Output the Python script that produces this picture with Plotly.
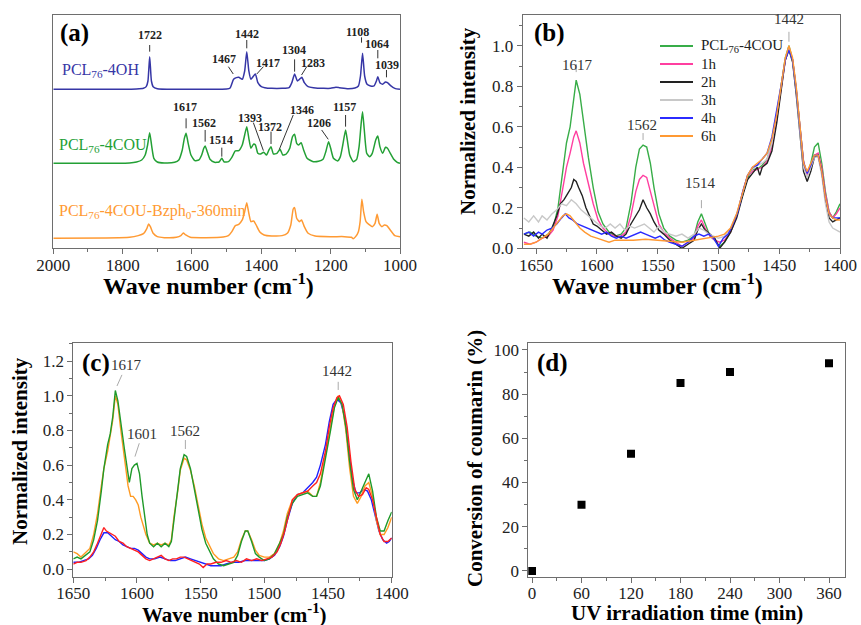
import plotly.graph_objects as go

W, H = 861, 625
SERIF = "Liberation Serif"

# ---------------- DATA ----------------
# Panel (a): spectra as (wave number, intensity above own baseline, a.u.)
a_oh = [(2000,0),(1900,0),(1800,0),(1760,0.01),(1740,0.03),(1732,0.08),(1727,0.25),(1722,0.98),(1717,0.25),(1712,0.08),
        (1700,0.02),(1650,0),(1550,0),(1500,0.01),(1490,0.04),(1480,0.3),(1472,0.35),(1465,0.36),(1455,0.3),(1448,0.55),
        (1442,1.13),(1436,0.55),(1430,0.3),(1424,0.38),(1417,0.46),(1410,0.2),(1400,0.08),(1390,0.05),(1370,0.03),(1340,0.03),
        (1320,0.05),(1312,0.2),(1304,0.46),(1296,0.25),(1290,0.3),(1283,0.36),(1276,0.2),(1265,0.08),(1250,0.05),(1220,0.03),
        (1200,0.03),(1185,0.06),(1175,0.05),(1150,0.02),(1130,0.04),(1120,0.1),(1114,0.4),(1108,1.08),(1102,0.4),(1095,0.15),
        (1085,0.1),(1075,0.1),(1068,0.25),(1064,0.38),(1058,0.2),(1050,0.15),(1042,0.22),(1036,0.2),(1028,0.12),(1015,0.03),(1000,0)]
a_cou = [(2000,0),(1850,0),(1780,0.01),(1760,0.04),(1745,0.1),(1735,0.25),(1728,0.55),(1722,0.92),(1716,0.5),(1710,0.15),
         (1700,0.04),(1680,0.01),(1650,0.03),(1638,0.1),(1628,0.4),(1622,0.75),(1617,0.9),(1611,0.6),(1603,0.25),(1592,0.08),
         (1580,0.1),(1572,0.25),(1566,0.45),(1562,0.52),(1556,0.35),(1548,0.12),(1535,0.03),(1522,0.04),(1514,0.15),(1507,0.04),
         (1495,0.05),(1485,0.18),(1475,0.37),(1465,0.38),(1455,0.55),(1448,0.85),(1442,1.1),(1436,0.75),(1430,0.45),(1422,0.58),
         (1417,0.55),(1410,0.3),(1402,0.28),(1393,0.33),(1385,0.25),(1378,0.4),(1372,0.5),(1365,0.28),(1355,0.3),(1346,0.42),
         (1338,0.25),(1328,0.28),(1318,0.45),(1310,0.8),(1304,0.87),(1298,0.6),(1292,0.55),(1285,0.62),(1278,0.4),(1268,0.15),
         (1250,0.05),(1235,0.06),(1222,0.12),(1214,0.35),(1206,0.65),(1200,0.45),(1192,0.15),(1180,0.07),(1172,0.2),(1165,0.55),
         (1157,1.0),(1152,0.7),(1145,0.25),(1135,0.05),(1125,0.12),(1118,0.5),(1112,1.2),(1108,1.55),(1103,1.0),(1096,0.3),
         (1088,0.2),(1080,0.3),(1070,0.7),(1064,0.82),(1058,0.5),(1050,0.3),(1042,0.48),(1036,0.45),(1028,0.3),(1018,0.12),
         (1008,0.03),(1000,0)]
a_bzph = [(2000,0),(1850,0.01),(1780,0.03),(1755,0.08),(1740,0.14),(1730,0.3),(1725,0.43),(1720,0.35),(1712,0.15),(1700,0.05),
          (1680,0.02),(1645,0.03),(1632,0.08),(1625,0.16),(1618,0.1),(1605,0.03),(1560,0.02),(1510,0.04),(1495,0.08),(1485,0.2),
          (1475,0.38),(1465,0.42),(1455,0.55),(1448,0.8),(1442,1.07),(1436,0.75),(1430,0.5),(1422,0.52),(1415,0.4),(1405,0.2),
          (1392,0.1),(1370,0.07),(1340,0.08),(1325,0.15),(1315,0.4),(1308,0.88),(1304,0.92),(1298,0.6),(1290,0.5),(1284,0.55),
          (1276,0.35),(1265,0.15),(1245,0.07),(1200,0.05),(1160,0.05),(1140,0.03),(1135,-0.01),(1128,0.05),(1120,0.2),(1115,0.5),
          (1110,1.17),(1105,0.8),(1098,0.5),(1090,0.42),(1080,0.35),(1072,0.45),(1066,0.72),(1060,0.45),(1052,0.35),(1045,0.4),
          (1038,0.38),(1028,0.25),(1015,0.08),(1000,0.05)]
a_names = ["PCL<sub>76</sub>-4OH", "PCL<sub>76</sub>-4COU", "PCL<sub>76</sub>-4COU-Bzph<sub>0</sub>-360min"]
a_offsets = [4.77, 2.55, 0.30]

# Panel (b): normalized intensity vs wave number
b_cou = [(1660,0.07),(1655,0.08),(1650,0.06),(1645,0.05),(1640,0.07),(1636,0.1),(1632,0.2),(1628,0.38),(1625,0.52),(1622,0.6),
         (1619,0.74),(1617,0.83),(1614,0.76),(1611,0.62),(1607,0.45),(1603,0.3),(1599,0.18),(1595,0.12),(1590,0.08),(1585,0.06),
         (1580,0.07),(1576,0.1),(1572,0.22),(1568,0.4),(1565,0.49),(1562,0.51),(1559,0.5),(1556,0.42),(1553,0.3),(1549,0.17),
         (1545,0.1),(1540,0.06),(1535,0.04),(1530,0.03),(1525,0.04),(1520,0.06),(1517,0.13),(1514,0.17),(1511,0.12),(1507,0.06),
         (1503,0.04),(1499,0.01),(1495,0.03),(1490,0.08),(1485,0.16),(1480,0.27),(1476,0.35),(1472,0.39),(1468,0.39),(1464,0.41),
         (1460,0.44),(1456,0.52),(1452,0.65),(1448,0.82),(1445,0.94),(1442,1.0),(1439,0.93),(1436,0.78),(1433,0.6),(1430,0.43),
         (1427,0.36),(1424,0.42),(1421,0.5),(1418,0.52),(1415,0.42),(1412,0.28),(1409,0.18),(1406,0.15),(1403,0.18),(1400,0.22)]
b_1h = [(1660,0.03),(1655,0.02),(1650,0.03),(1645,0.05),(1640,0.06),(1636,0.09),(1632,0.16),(1628,0.3),(1625,0.4),(1622,0.47),
        (1619,0.55),(1617,0.58),(1614,0.52),(1611,0.42),(1607,0.32),(1603,0.22),(1599,0.14),(1595,0.1),(1590,0.07),(1585,0.06),
        (1580,0.06),(1576,0.08),(1572,0.16),(1568,0.28),(1565,0.34),(1562,0.36),(1559,0.35),(1556,0.28),(1553,0.2),(1549,0.12),
        (1545,0.08),(1540,0.05),(1535,0.03),(1530,0.01),(1525,0.03),(1520,0.05),(1517,0.11),(1514,0.14),(1511,0.1),(1507,0.06),
        (1503,0.04),(1499,0.03),(1495,0.04),(1490,0.08),(1485,0.16),(1480,0.28),(1476,0.36),(1472,0.38),(1468,0.39),(1464,0.4),
        (1460,0.43),(1456,0.5),(1452,0.64),(1448,0.8),(1445,0.93),(1442,0.99),(1439,0.93),(1436,0.78),(1433,0.6),(1430,0.43),
        (1427,0.36),(1424,0.41),(1421,0.46),(1418,0.47),(1415,0.4),(1412,0.27),(1409,0.18),(1406,0.15),(1403,0.17),(1400,0.2)]
b_2h = [(1660,0.07),(1656,0.06),(1652,0.08),(1648,0.05),(1645,0.07),(1641,0.05),(1637,0.1),(1633,0.16),(1630,0.22),(1627,0.24),
        (1624,0.27),(1621,0.3),(1619,0.34),(1617,0.33),(1615,0.3),(1612,0.26),(1609,0.2),(1606,0.16),(1603,0.12),(1600,0.11),
        (1596,0.09),(1592,0.07),(1588,0.08),(1584,0.06),(1580,0.05),(1576,0.07),(1572,0.12),(1568,0.16),(1565,0.19),(1562,0.24),
        (1559,0.2),(1556,0.17),(1553,0.13),(1549,0.09),(1545,0.07),(1540,0.04),(1535,0.02),(1530,0.0),(1525,0.02),(1520,0.04),
        (1517,0.09),(1514,0.12),(1511,0.09),(1507,0.07),(1503,0.05),(1499,0.0),(1495,0.03),(1490,0.08),(1485,0.15),(1480,0.26),
        (1476,0.34),(1472,0.37),(1468,0.4),(1466,0.36),(1464,0.4),(1460,0.42),(1456,0.48),(1452,0.62),(1448,0.8),(1445,0.93),
        (1442,0.98),(1439,0.92),(1436,0.76),(1433,0.57),(1430,0.38),(1427,0.33),(1424,0.38),(1421,0.45),(1418,0.46),(1415,0.38),
        (1412,0.24),(1409,0.15),(1406,0.13),(1403,0.14),(1400,0.15)]
b_3h = [(1660,0.15),(1656,0.13),(1652,0.16),(1648,0.13),(1645,0.16),(1641,0.14),(1637,0.17),(1633,0.19),(1629,0.22),(1625,0.21),
        (1621,0.24),(1617,0.22),(1613,0.19),(1609,0.17),(1605,0.15),(1601,0.13),(1597,0.11),(1593,0.1),(1589,0.12),(1585,0.1),
        (1581,0.12),(1577,0.09),(1573,0.11),(1569,0.1),(1565,0.11),(1561,0.12),(1557,0.1),(1553,0.08),(1549,0.11),(1545,0.08),
        (1540,0.07),(1535,0.06),(1530,0.07),(1525,0.05),(1520,0.07),(1516,0.1),(1512,0.09),(1508,0.07),(1504,0.06),(1500,0.05),
        (1495,0.06),(1490,0.1),(1485,0.17),(1480,0.28),(1476,0.36),(1472,0.39),(1468,0.41),(1464,0.42),(1460,0.44),(1456,0.52),
        (1452,0.66),(1448,0.82),(1445,0.94),(1442,0.99),(1439,0.93),(1436,0.78),(1433,0.58),(1430,0.4),(1427,0.35),(1424,0.4),
        (1421,0.45),(1418,0.45),(1415,0.36),(1412,0.22),(1409,0.13),(1406,0.1),(1403,0.09),(1400,0.08)]
b_4h = [(1660,0.07),(1656,0.08),(1652,0.06),(1648,0.08),(1645,0.07),(1641,0.09),(1637,0.1),(1633,0.12),(1629,0.15),(1626,0.17),
        (1623,0.15),(1620,0.14),(1616,0.12),(1612,0.11),(1608,0.1),(1604,0.09),(1600,0.08),(1596,0.07),(1592,0.08),(1588,0.06),
        (1584,0.05),(1580,0.06),(1576,0.05),(1572,0.06),(1568,0.07),(1564,0.08),(1560,0.07),(1556,0.06),(1552,0.05),(1548,0.06),
        (1544,0.04),(1540,0.03),(1535,0.02),(1530,0.01),(1525,0.03),(1520,0.06),(1516,0.07),(1512,0.06),(1508,0.07),(1504,0.05),
        (1500,0.01),(1496,0.05),(1492,0.07),(1488,0.12),(1484,0.18),(1480,0.28),(1476,0.36),(1472,0.4),(1468,0.41),(1464,0.44),
        (1460,0.47),(1456,0.55),(1452,0.68),(1448,0.82),(1445,0.93),(1442,0.98),(1439,0.93),(1436,0.79),(1433,0.6),(1430,0.42),
        (1427,0.37),(1424,0.41),(1421,0.46),(1418,0.46),(1415,0.38),(1412,0.25),(1409,0.17),(1406,0.15),(1403,0.15),(1400,0.15)]
b_6h = [(1660,0.02),(1655,0.02),(1650,0.03),(1645,0.05),(1640,0.07),(1636,0.1),(1632,0.13),(1628,0.16),(1625,0.17),(1622,0.16),
        (1618,0.13),(1614,0.1),(1610,0.08),(1605,0.06),(1600,0.05),(1595,0.04),(1590,0.03),(1585,0.04),(1580,0.04),(1570,0.04),
        (1560,0.045),(1550,0.04),(1540,0.035),(1530,0.03),(1520,0.04),(1510,0.05),(1500,0.06),(1495,0.07),(1490,0.1),(1485,0.17),
        (1480,0.28),(1476,0.36),(1472,0.4),(1468,0.42),(1464,0.44),(1460,0.47),(1456,0.54),(1452,0.66),(1448,0.82),(1445,0.94),
        (1442,1.0),(1439,0.94),(1436,0.8),(1433,0.6),(1430,0.42),(1427,0.38),(1424,0.42),(1421,0.46),(1418,0.46),(1415,0.38),
        (1412,0.25),(1409,0.17),(1406,0.15),(1403,0.14),(1400,0.14)]
b_names = ["PCL<sub>76</sub>-4COU", "1h", "2h", "3h", "4h", "6h"]

# Panel (c): normalized intensity vs wave number
c_green = [(1650,0.06),(1647,0.07),(1644,0.06),(1640,0.08),(1637,0.1),(1634,0.17),(1631,0.28),(1628,0.45),(1626,0.58),(1623,0.72),
           (1621,0.78),(1619,0.88),(1617,1.03),(1615,0.97),(1613,0.85),(1610,0.7),(1607,0.55),(1606,0.5),(1604,0.58),(1602,0.6),
           (1600,0.61),(1598,0.55),(1596,0.42),(1594,0.3),(1592,0.2),(1590,0.15),(1587,0.13),(1584,0.15),(1581,0.13),(1578,0.15),
           (1575,0.13),(1573,0.16),(1571,0.28),(1568,0.45),(1566,0.58),(1563,0.66),(1561,0.65),(1558,0.58),(1555,0.47),(1552,0.35),
           (1549,0.23),(1546,0.15),(1543,0.1),(1540,0.06),(1536,0.03),(1532,0.02),(1528,0.03),(1524,0.04),(1521,0.08),(1518,0.16),
           (1515,0.22),(1513,0.22),(1510,0.16),(1507,0.09),(1504,0.07),(1500,0.05),(1496,0.06),(1492,0.09),(1488,0.15),(1485,0.2),
           (1482,0.3),(1478,0.38),(1474,0.42),(1470,0.43),(1466,0.44),(1462,0.42),(1459,0.42),(1456,0.48),(1452,0.63),(1448,0.8),
           (1445,0.93),(1442,0.99),(1439,0.95),(1436,0.82),(1433,0.62),(1430,0.46),(1427,0.4),(1424,0.45),(1421,0.5),(1418,0.55),
           (1415,0.45),(1412,0.3),(1409,0.22),(1406,0.22),(1403,0.28),(1400,0.33)]
c_orange = [(1650,0.1),(1647,0.09),(1644,0.07),(1640,0.1),(1637,0.12),(1634,0.2),(1631,0.32),(1628,0.48),(1626,0.58),(1623,0.68),
            (1621,0.77),(1619,0.86),(1617,1.0),(1615,0.95),(1613,0.82),(1610,0.65),(1607,0.48),(1605,0.42),(1603,0.42),(1601,0.4),
            (1599,0.37),(1597,0.3),(1595,0.25),(1593,0.2),(1590,0.15),(1587,0.14),(1584,0.15),(1581,0.14),(1578,0.15),(1575,0.14),
            (1573,0.17),(1571,0.3),(1568,0.45),(1566,0.57),(1563,0.64),(1561,0.63),(1558,0.57),(1555,0.48),(1552,0.37),(1549,0.26),
            (1546,0.18),(1543,0.13),(1540,0.09),(1536,0.06),(1532,0.05),(1528,0.06),(1524,0.07),(1521,0.1),(1518,0.17),(1515,0.22),
            (1513,0.22),(1510,0.17),(1507,0.11),(1504,0.08),(1500,0.07),(1496,0.07),(1492,0.09),(1488,0.15),(1485,0.22),(1482,0.32),
            (1478,0.4),(1474,0.43),(1470,0.44),(1466,0.45),(1462,0.42),(1459,0.42),(1456,0.5),(1452,0.65),(1448,0.82),(1445,0.94),
            (1442,1.0),(1439,0.95),(1436,0.8),(1433,0.58),(1430,0.42),(1427,0.38),(1424,0.42),(1421,0.48),(1418,0.5),(1415,0.42),
            (1412,0.28),(1409,0.2),(1406,0.2),(1403,0.24),(1400,0.3)]
c_blue = [(1650,0.04),(1646,0.04),(1642,0.05),(1638,0.06),(1635,0.08),(1632,0.12),(1629,0.17),(1626,0.21),(1623,0.21),(1620,0.19),
          (1617,0.17),(1614,0.16),(1611,0.14),(1608,0.13),(1605,0.12),(1602,0.12),(1599,0.11),(1596,0.09),(1593,0.07),(1590,0.06),
          (1586,0.06),(1582,0.07),(1578,0.06),(1574,0.05),(1570,0.05),(1566,0.06),(1562,0.07),(1558,0.06),(1554,0.05),(1550,0.04),
          (1546,0.03),(1542,0.02),(1538,0.02),(1534,0.02),(1530,0.03),(1525,0.04),(1520,0.04),(1515,0.05),(1510,0.05),(1505,0.05),
          (1500,0.05),(1496,0.06),(1492,0.08),(1488,0.13),(1485,0.19),(1482,0.28),(1478,0.38),(1474,0.43),(1470,0.44),(1466,0.47),
          (1462,0.5),(1459,0.53),(1456,0.6),(1452,0.72),(1449,0.85),(1446,0.95),(1443,0.98),(1440,0.96),(1437,0.88),(1434,0.7),
          (1431,0.52),(1428,0.44),(1425,0.44),(1422,0.46),(1419,0.45),(1416,0.4),(1413,0.3),(1410,0.22),(1407,0.17),(1404,0.15),
          (1402,0.16),(1400,0.18)]
c_red = [(1650,0.03),(1647,0.04),(1644,0.04),(1640,0.05),(1637,0.07),(1634,0.1),(1631,0.15),(1628,0.2),(1626,0.24),(1624,0.22),
         (1622,0.21),(1620,0.2),(1617,0.19),(1614,0.16),(1611,0.15),(1608,0.13),(1605,0.12),(1602,0.11),(1599,0.1),(1596,0.08),
         (1593,0.06),(1590,0.05),(1587,0.06),(1584,0.07),(1581,0.08),(1578,0.06),(1575,0.05),(1572,0.06),(1569,0.06),(1566,0.07),
         (1563,0.07),(1560,0.06),(1557,0.05),(1554,0.04),(1551,0.03),(1548,0.01),(1545,0.03),(1542,0.03),(1538,0.04),(1534,0.04),
         (1530,0.05),(1526,0.04),(1522,0.05),(1518,0.04),(1514,0.06),(1510,0.05),(1506,0.06),(1502,0.05),(1498,0.06),(1494,0.07),
         (1490,0.1),(1487,0.15),(1484,0.22),(1481,0.32),(1478,0.4),(1474,0.43),(1470,0.44),(1466,0.45),(1462,0.48),(1459,0.5),
         (1456,0.55),(1452,0.68),(1449,0.82),(1446,0.93),(1443,0.99),(1441,1.0),(1438,0.95),(1435,0.82),(1432,0.62),(1429,0.46),
         (1426,0.42),(1423,0.43),(1420,0.47),(1418,0.46),(1415,0.4),(1412,0.3),(1409,0.2),(1406,0.16),(1403,0.16),(1400,0.18)]

# Panel (d): conversion of coumarin
d_time = [0, 60, 120, 180, 240, 360]
d_conv = [0, 30, 53, 85, 90, 94]

# Peak labels: (text, label x, label y, leader line x0, y0, x1, y1)
a_peaks = [("1722",1722,6.40,1722,6.10,1722,5.90),("1442",1441,6.43,1442,6.25,1442,6.00),
           ("1467",1509,5.67,1495,5.45,1481,5.23),("1417",1380,5.57,1394,5.45,1413,5.23),
           ("1304",1306,5.95,1304,5.67,1304,5.30),("1283",1250,5.57,1269,5.45,1284,5.20),
           ("1108",1122,6.50,1111,6.33,1111,6.17),("1064",1067,6.13,1064,5.95,1064,5.70),
           ("1039",1038,5.50,1039,5.35,1039,5.13),("1617",1620,4.23,1617,3.90,1617,3.60),
           ("1562",1564,3.77,1562,3.55,1562,3.20),("1514",1517,3.25,1514,3.02,1514,2.75),
           ("1393",1433,3.90,1423,3.77,1394,2.93),("1372",1375,3.65,1372,3.50,1372,3.13),
           ("1346",1284,4.15,1308,4.00,1348,2.97),("1206",1233,3.75,1226,3.55,1207,3.27),
           ("1157",1159,4.23,1157,4.00,1157,3.65)]
b_peaks = [("1617",1616,0.954,1617,0.91,1617,0.87),("1562",1563,0.609,1562,0.569,1562,0.535),
           ("1514",1515,0.273,1514,0.238,1514,0.198),("1442",1442,1.18,1442,1.069,1442,1.02)]
c_peaks = [("1617",1608,1.177,1611.8,1.12,1615.7,1.056),("1601",1596,0.779,1598.2,0.726,1601.6,0.649),
           ("1562",1562,0.798,1562,0.745,1562,0.693),("1442",1443,1.142,1442,1.08,1442,1.033)]

# ---------------- FIGURE ----------------
fig = go.Figure()

def unzip(pairs):
    return [p[0] for p in pairs], [p[1] for p in pairs]

a_colors = ["#3636a6", "#23a035", "#ff9a33"]
for pairs, off, col in zip([a_oh, a_cou, a_bzph], a_offsets, a_colors):
    x, y = unzip(pairs)
    fig.add_trace(go.Scatter(x=x, y=[v + off for v in y], mode="lines", xaxis="x", yaxis="y",
                             line=dict(color=col, width=1.5, shape="spline", smoothing=0.5),
                             showlegend=False, hoverinfo="skip"))

b_colors = ["#38ad48", "#ff3fa0", "#222222", "#c8c8c8", "#2b2bff", "#ff9933"]
for pairs, name, col in zip([b_cou, b_1h, b_2h, b_3h, b_4h, b_6h], b_names, b_colors):
    x, y = unzip(pairs)
    fig.add_trace(go.Scatter(x=x, y=y, mode="lines", name=name, xaxis="x2", yaxis="y2",
                             line=dict(color=col, width=1.4), showlegend=False))

for pairs, col in zip([c_blue, c_orange, c_green, c_red], ["#2020ff", "#ff9a22", "#1f9a2a", "#ff2020"]):
    x, y = unzip(pairs)
    fig.add_trace(go.Scatter(x=x, y=y, mode="lines", xaxis="x3", yaxis="y3",
                             line=dict(color=col, width=1.4), showlegend=False))

fig.add_trace(go.Scatter(x=d_time, y=d_conv, mode="markers", xaxis="x4", yaxis="y4",
                         marker=dict(symbol="square", size=8, color="black"), showlegend=False))

# ---------------- AXES ----------------
AX = "#6e6e6e"
def axis(**kw):
    base = dict(showline=True, mirror=True, linecolor=AX, linewidth=1, ticks="outside", ticklen=5,
                tickcolor=AX, tickfont=dict(family=SERIF, size=17, color="#222"), automargin=False,
                showgrid=False, zeroline=False, fixedrange=True)
    base.update(kw)
    return base

def minor(d):
    return dict(dtick=d, ticks="outside", ticklen=3, tickcolor=AX, showgrid=False)

def px(x):
    return x / W

def py(y):
    return 1 - y / H

top = [py(248.3), py(15)]
bot = [py(576.7), py(343.3)]
B_YMAX = 1.152
XS = -4  # pull x tick labels slightly closer to the axis
fig.update_layout(
    xaxis=axis(domain=[px(53.3), px(400)], anchor="y", range=[2000, 1000], dtick=200, tick0=0, minor=minor(100),
               ticklabelstandoff=XS),
    yaxis=axis(domain=top, anchor="x", range=[0, 7.0], showticklabels=False, ticks=""),
    xaxis2=axis(domain=[px(522.7), px(840)], anchor="y2", range=[1661, 1400], dtick=50, tick0=0, minor=minor(25),
                ticklabelstandoff=XS),
    yaxis2=axis(domain=top, anchor="x2", range=[0, B_YMAX], dtick=0.2, tick0=0, tickformat=".1f", minor=minor(0.1)),
    xaxis3=axis(domain=[px(73.3), px(391.7)], anchor="y3", range=[1650, 1400], dtick=50, tick0=0, minor=minor(25),
                ticklabelstandoff=XS),
    yaxis3=axis(domain=bot, anchor="x3", range=[-0.043, 1.302], dtick=0.2, tick0=0, tickformat=".1f", minor=minor(0.1)),
    xaxis4=axis(domain=[px(528.3), px(845)], anchor="y4", range=[-4.5, 379.4], dtick=60, tick0=0, minor=minor(30),
                ticklabelstandoff=XS),
    yaxis4=axis(domain=bot, anchor="x4", range=[-2.6, 103], dtick=20, tick0=0, minor=minor(10)),
)

# ---------------- TEXT ----------------
ann = []
shapes = []
for lab, xs, ys, x0, y0, x1, y1 in a_peaks:
    ann.append(dict(x=xs, y=ys, xref="x", yref="y", text="<b>%s</b>" % lab, showarrow=False,
                    font=dict(family=SERIF, size=12, color="#222")))
    shapes.append(dict(type="line", xref="x", yref="y", x0=x0, y0=y0, x1=x1, y1=y1,
                       line=dict(color="#333", width=1)))
for lab, xs, ys, x0, y0, x1, y1 in b_peaks:
    # labels above the axis range are placed by axis-domain fraction so they stay visible
    ann.append(dict(x=xs, y=ys / B_YMAX, xref="x2", yref="y2 domain", text=lab, showarrow=False,
                    font=dict(family=SERIF, size=15, color="#333")))
    shapes.append(dict(type="line", xref="x2", yref="y2", x0=x0, y0=y0, x1=x1, y1=y1,
                       line=dict(color="#aaaaaa", width=1)))
for lab, xs, ys, x0, y0, x1, y1 in c_peaks:
    ann.append(dict(x=xs, y=ys, xref="x3", yref="y3", text=lab, showarrow=False,
                    font=dict(family=SERIF, size=15, color="#333")))
    shapes.append(dict(type="line", xref="x3", yref="y3", x0=x0, y0=y0, x1=x1, y1=y1,
                       line=dict(color="#aaaaaa", width=1)))

# series names in panel (a)
for name, col, xs, ys in zip(a_names, a_colors, [1981, 1988, 1988], [5.32, 3.08, 1.10]):
    ann.append(dict(x=xs, y=ys, xref="x", yref="y", text=name, showarrow=False, xanchor="left",
                    font=dict(family=SERIF, size=16, color=col)))

# legend of panel (b), drawn as line samples + labels
for i, (name, col) in enumerate(zip(b_names, b_colors)):
    yy = 46 + 18 * i
    shapes.append(dict(type="line", xref="paper", yref="paper", x0=px(660), x1=px(693), y0=py(yy), y1=py(yy),
                       line=dict(color=col, width=2)))
    ann.append(dict(x=px(699), y=py(yy), xref="paper", yref="paper", text=name, showarrow=False,
                    xanchor="left", yanchor="middle", font=dict(family=SERIF, size=15, color="#222")))

# panel tags
for tag, xs, ys, xr, yr in [("(a)", 1986, 6.45, "x", "y"), ("(b)", 1653, 1.061, "x2", "y2"),
                            ("(c)", 1645, 1.188, "x3", "y3"), ("(d)", 3.6, 94.1, "x4", "y4")]:
    ann.append(dict(x=xs, y=ys, xref=xr, yref=yr, text="<b>%s</b>" % tag, showarrow=False, xanchor="left",
                    font=dict(family=SERIF, size=25, color="black")))

# axis titles
WN = "<b>Wave number (cm<sup>-1</sup>)</b>"
for text, x, y, ang, size in [(WN, 208, 284, 0, 24), (WN, 657, 284, 0, 24), (WN, 234, 613, 0, 21),
                              ("<b>UV irradiation time (min)</b>", 687, 613, 0, 21),
                              ("<b>Normalized intensity</b>", 468, 121, -90, 21),
                              ("<b>Normalized intensity</b>", 20, 451, -90, 21),
                              ("<b>Conversion of coumarin (%)</b>", 475, 459, -90, 21)]:
    ann.append(dict(x=px(x), y=py(y), xref="paper", yref="paper", text=text, showarrow=False,
                    textangle=ang, xanchor="center", yanchor="middle",
                    font=dict(family=SERIF, size=size, color="black")))

fig.update_layout(
    annotations=ann, shapes=shapes,
    width=W, height=H, margin=dict(l=0, r=0, t=0, b=0, autoexpand=False),
    paper_bgcolor="white", plot_bgcolor="white", showlegend=False,
    font=dict(family=SERIF, color="#222"),
)

# the page body has a default 8px margin; remove it so the 861x625 figure fills the window exactly
fig.write_html("out.html", config={"displayModeBar": False},
               post_script="document.body.style.margin='0px';document.body.style.overflow='hidden';")
